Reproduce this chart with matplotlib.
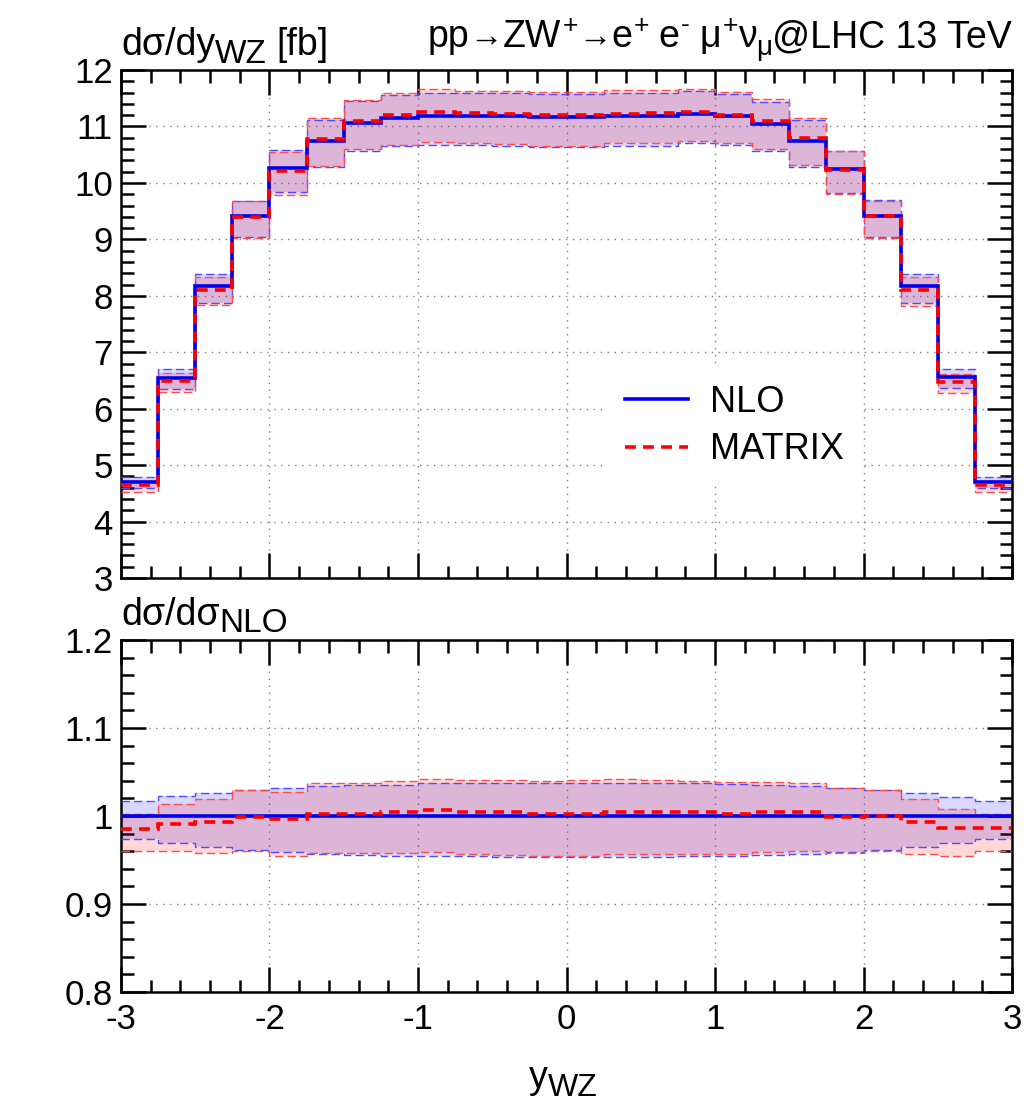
import numpy as np
import matplotlib
matplotlib.use("Agg")
import matplotlib.pyplot as plt
from matplotlib.ticker import MultipleLocator, FixedLocator, FixedFormatter

# bin edges in y_WZ
edges = np.linspace(-3, 3, 25)

# upper panel: d sigma / d y_WZ [fb]
nlo = [4.71, 6.55, 8.17, 9.41, 10.26, 10.75, 11.06, 11.15, 11.19, 11.18, 11.18, 11.165,
       11.165, 11.18, 11.18, 11.22, 11.18, 11.05, 10.75, 10.24, 9.41, 8.17, 6.57, 4.71]
nlo_up = [4.79, 6.70, 8.39, 9.68, 10.59, 11.12, 11.45, 11.55, 11.60, 11.59, 11.60, 11.58,
          11.58, 11.60, 11.59, 11.63, 11.58, 11.44, 11.12, 10.57, 9.69, 8.39, 6.71, 4.79]
nlo_dn = [4.59, 6.35, 7.88, 9.04, 9.84, 10.29, 10.57, 10.65, 10.68, 10.67, 10.65, 10.64,
          10.64, 10.65, 10.65, 10.71, 10.68, 10.56, 10.29, 9.82, 9.04, 7.88, 6.37, 4.59]
mtx = [4.64, 6.49, 8.11, 9.40, 10.22, 10.78, 11.09, 11.20, 11.26, 11.24, 11.22, 11.20,
       11.20, 11.23, 11.24, 11.26, 11.21, 11.09, 10.79, 10.23, 9.41, 8.11, 6.48, 4.64]
mtx_up = [4.72, 6.64, 8.33, 9.68, 10.54, 11.15, 11.47, 11.60, 11.66, 11.63, 11.63, 11.61,
          11.62, 11.64, 11.64, 11.67, 11.61, 11.48, 11.15, 10.57, 9.68, 8.33, 6.62, 4.72]
mtx_dn = [4.52, 6.29, 7.83, 9.03, 9.79, 10.30, 10.60, 10.68, 10.73, 10.70, 10.69, 10.66,
          10.66, 10.70, 10.70, 10.74, 10.70, 10.60, 10.32, 9.81, 9.03, 7.82, 6.27, 4.52]

# lower panel: ratio to NLO
r_nlo = [1.0] * 24
r_nlo_up = [1.017, 1.023, 1.0265, 1.029, 1.032, 1.034, 1.035, 1.0356, 1.037, 1.037, 1.0375, 1.0375,
            1.0375, 1.0375, 1.037, 1.037, 1.036, 1.035, 1.034, 1.032, 1.030, 1.0265, 1.022, 1.017]
r_nlo_dn = [0.974, 0.969, 0.9644, 0.961, 0.959, 0.957, 0.956, 0.955, 0.9545, 0.9545, 0.953, 0.953,
            0.953, 0.953, 0.953, 0.9545, 0.955, 0.956, 0.957, 0.959, 0.961, 0.9644, 0.969, 0.974]
r_mtx = [0.9856, 0.991, 0.993, 0.999, 0.996, 1.0027, 1.0027, 1.0045, 1.0064, 1.005, 1.004, 1.0027,
         1.0027, 1.0045, 1.005, 1.004, 1.0027, 1.004, 1.004, 0.999, 0.9995, 0.993, 0.986, 0.986]
r_mtx_up = [1.002, 1.013, 1.0197, 1.029, 1.027, 1.037, 1.0375, 1.040, 1.042, 1.0405, 1.0405, 1.040,
            1.0405, 1.0415, 1.041, 1.040, 1.038, 1.0385, 1.037, 1.032, 1.029, 1.0197, 1.008, 1.002]
r_mtx_dn = [0.960, 0.960, 0.958, 0.960, 0.954, 0.958, 0.958, 0.958, 0.959, 0.957, 0.956, 0.955,
            0.955, 0.957, 0.957, 0.957, 0.957, 0.959, 0.960, 0.958, 0.960, 0.957, 0.955, 0.960]

plt.rcParams['font.family'] = ['Liberation Sans', 'DejaVu Sans']
plt.rcParams['axes.unicode_minus'] = False

W, H = 1035, 1105
fig = plt.figure(figsize=(W / 100, H / 100), dpi=100)
ax1 = fig.add_axes([0.1169, 0.4769, 0.8609, 0.4597])
ax2 = fig.add_axes([0.1169, 0.1023, 0.8609, 0.3186])
renderer = fig.canvas.get_renderer()


def rich_text(x, y, pieces, ha='left'):
    # pieces: (text, fontsize, baseline shift in pt, gap before in pt)
    # gnuplot-style sub/superscripts, which are larger than mathtext ones
    items = []
    cx = x
    for s, size, dy, gap in pieces:
        cx += gap * 100 / 72 / W
        t = fig.text(cx, y + dy * 100 / 72 / H, s, fontsize=size,
                     ha='left', va='baseline')
        cx += t.get_window_extent(renderer).width / W
        items.append(t)
    width = cx - x
    shift = {'left': 0, 'right': -width, 'center': -width / 2}[ha]
    for t in items:
        px, py = t.get_position()
        t.set_position((px + shift, py))


def draw(ax, c1, u1, d1, c2, u2, d2):
    # bands
    ax.stairs(u1, edges, baseline=d1, fill=True, color=(0, 0, 1), alpha=0.157, lw=0, zorder=2)
    ax.stairs(u2, edges, baseline=d2, fill=True, color=(1, 0, 0), alpha=0.157, lw=0, zorder=2)
    for arr in (u1, d1):
        ax.stairs(arr, edges, baseline=None, color=(0.3, 0.3, 1), lw=1.0, ls=(0, (6, 3)), zorder=3)
    for arr in (u2, d2):
        ax.stairs(arr, edges, baseline=None, color=(1, 0.3, 0.3), lw=1.0, ls=(0, (6, 3)), zorder=3)
    # central lines
    ax.stairs(c1, edges, baseline=None, color='#0000ee', lw=2.6, zorder=4, label='NLO')
    ax.stairs(c2, edges, baseline=None, color='#ff0000', lw=2.6, ls=(0, (3, 2)), zorder=5, label='MATRIX')


def style(ax):
    ax.set_xlim(-3, 3)
    ax.xaxis.set_major_locator(MultipleLocator(1))
    ax.xaxis.set_minor_locator(MultipleLocator(0.2))
    ax.tick_params(which='both', direction='in', top=True, right=True, width=1.8, labelsize=25)
    ax.tick_params(which='major', length=18)
    ax.tick_params(which='minor', length=9)
    for s in ax.spines.values():
        s.set_linewidth(1.8)
    ax.grid(True, which='major', color='#808080', ls=(0, (1, 4)), lw=1.0, zorder=1)
    ax.set_axisbelow(True)


draw(ax1, nlo, nlo_up, nlo_dn, mtx, mtx_up, mtx_dn)
style(ax1)
ax1.set_ylim(3, 12)
ax1.yaxis.set_major_locator(MultipleLocator(1))
ax1.yaxis.set_minor_locator(MultipleLocator(0.2))
ax1.tick_params(labelbottom=False, pad=6)

leg = ax1.legend(loc='center left', bbox_to_anchor=(0.545, 0.299), fontsize=26, frameon=True,
                 fancybox=False, edgecolor='none', facecolor='white', framealpha=1,
                 handlelength=1.75, handletextpad=0.6, labelspacing=0.35, borderpad=0.5,
                 borderaxespad=0)
leg.set_zorder(6)

draw(ax2, r_nlo, r_nlo_up, r_nlo_dn, r_mtx, r_mtx_up, r_mtx_dn)
style(ax2)
ax2.set_ylim(0.8, 1.2)
ax2.yaxis.set_major_locator(FixedLocator([0.8, 0.9, 1.0, 1.1, 1.2]))
ax2.yaxis.set_major_formatter(FixedFormatter(['0.8', '0.9', '1', '1.1', '1.2']))
ax2.yaxis.set_minor_locator(MultipleLocator(0.02))
ax2.tick_params(axis='y', pad=6)
ax2.tick_params(axis='x', pad=8)

rich_text(0.1169, 1 - 55 / H, [('dσ/dy', 27, 0, 0), ('WZ', 24, -6, 0), ('[fb]', 27, 0, 7)])
rich_text(0.9778, 1 - 47 / H, [
    ('pp', 27, 0, 0), ('→', 24, 1, 0), ('ZW', 27, 0, 0), ('+', 19, 10, 1),
    ('→', 24, 1, 0), ('e', 27, 0, 0), ('+', 19, 10, 1),
    ('e', 27, 0, 7), ('-', 19, 11, 1),
    ('μ', 27, 0, 7), ('+', 19, 10, 1), ('ν', 27, 0, 0), ('μ', 20, -6, 0),
    ('@LHC 13 TeV', 27, 0, 0)], ha='right')
rich_text(0.1169, 1 - 625 / H, [('dσ/dσ', 27, 0, 0), ('NLO', 24, -5, 0)])
rich_text(0.5445, 1 - 1088 / H, [('y', 27, 0, 0), ('WZ', 23, -6, 0)], ha='center')

fig.savefig('out.png', dpi=100)
